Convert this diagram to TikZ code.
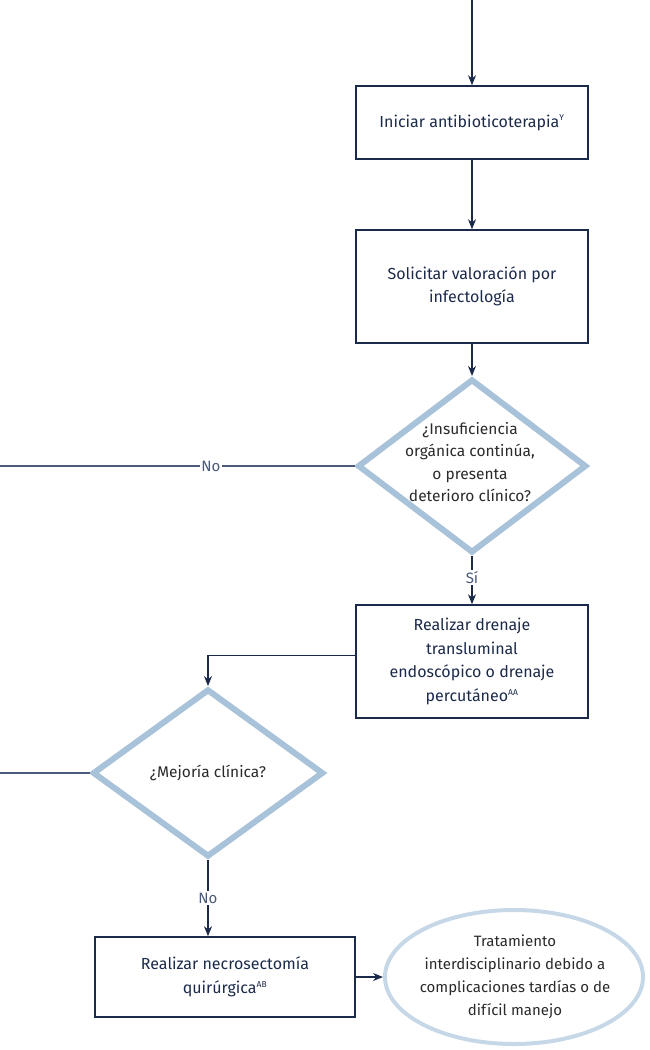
\documentclass[tikz,border=0pt]{standalone}
\usepackage{fontspec}
\setmainfont{Fira Sans}
\usetikzlibrary{shapes.geometric,arrows.meta}
\definecolor{navy}{HTML}{1B2A4A}
\definecolor{paleblue}{HTML}{A8C2DA}
\definecolor{mist}{HTML}{C6D8E7}
\definecolor{ink}{HTML}{2A2A2A}
\definecolor{wire}{HTML}{4A5A78}

\newcommand{\supnote}[1]{\textsuperscript{\fontsize{8.5}{9}\selectfont #1}}

\tikzset{
  stepbox/.style={font=\fontsize{16}{23.5}\selectfont, draw=navy, line width=1.6pt,
    text=navy, align=center, minimum width=232pt, inner sep=4pt},
  decision/.style={diamond, draw=paleblue, line width=6pt, inner sep=0pt},
  qtext/.style={font=\fontsize{15.5}{22.5}\selectfont, text=ink, align=center, inner sep=0pt},
  outcome/.style={ellipse, draw=mist, line width=4pt, inner sep=0pt,
    minimum width=258pt, minimum height=134pt},
  otext/.style={font=\fontsize{15}{23}\selectfont, text=ink, align=center, inner sep=0pt},
  flow/.style={draw=navy, line width=1.1pt, -{Stealth[length=10pt,width=8pt]}},
  wireline/.style={draw=wire, line width=1.1pt},
  lbl/.style={fill=white, inner sep=1.5pt, text=wire, font=\fontsize{15}{16}\selectfont}
}

\begin{document}
\begin{tikzpicture}[x=1pt,y=-1pt]
\useasboundingbox (0,0) rectangle (649,1050);

% process boxes
\node[stepbox, minimum height=73pt] (b1) at (472,122.5)
  {Iniciar antibioticoterapia\supnote{Y}};
\node[stepbox, minimum height=113pt] (b2) at (472,286.5)
  {Solicitar valoración por\\infectología};
\node[stepbox, minimum height=113pt] (b3) at (472,661.5)
  {Realizar drenaje\\transluminal\\endoscópico o drenaje\\percutáneo\supnote{AA}};
\node[stepbox, minimum width=260pt, minimum height=80pt] (b4) at (225,977)
  {Realizar necrosectomía\\quirúrgica\supnote{AB}};

% decisions: frame and question text
\node[decision, minimum width=229pt, minimum height=174pt] (d1) at (472,466) {};
\node[qtext] (q1) at (470,462)
  {¿Insuficiencia\\orgánica continúa,\\o presenta\\deterioro clínico?};
\node[decision, minimum width=231pt, minimum height=168pt] (d2) at (208,773) {};
\node[qtext] (q2) at (208,773) {¿Mejoría clínica?};

% terminal outcome: frame and text
\node[outcome] (e1) at (514,977) {};
\node[otext] (t1) at (515,976.5)
  {Tratamiento\\interdisciplinario debido a\\complicaciones tardías o de\\difícil manejo};

% free ends
\coordinate (in0) at (472,0);
\coordinate (out1) at (0,466);
\coordinate (out2) at (0,773);

% connectors
\draw[flow] (in0) -- (b1.north);
\draw[flow] (b1.south) -- (b2.north);
\draw[flow] (b2.south) -- (d1.north);
\draw[wireline] (d1.west) -- node[lbl, pos=0.405] {No} (out1);
\draw[flow] (d1.south) -- node[lbl, pos=0.45] {Sí} (b3.north);
\draw[flow] ([yshift=6pt]b3.west) -| (d2.north);
\draw[wireline] (d2.west) -- (out2);
\draw[flow] (d2.south) -- node[lbl, pos=0.5] {No} (d2.south |- b4.north);
\draw[flow] (b4.east) -- (e1.west);
\end{tikzpicture}
\end{document}
